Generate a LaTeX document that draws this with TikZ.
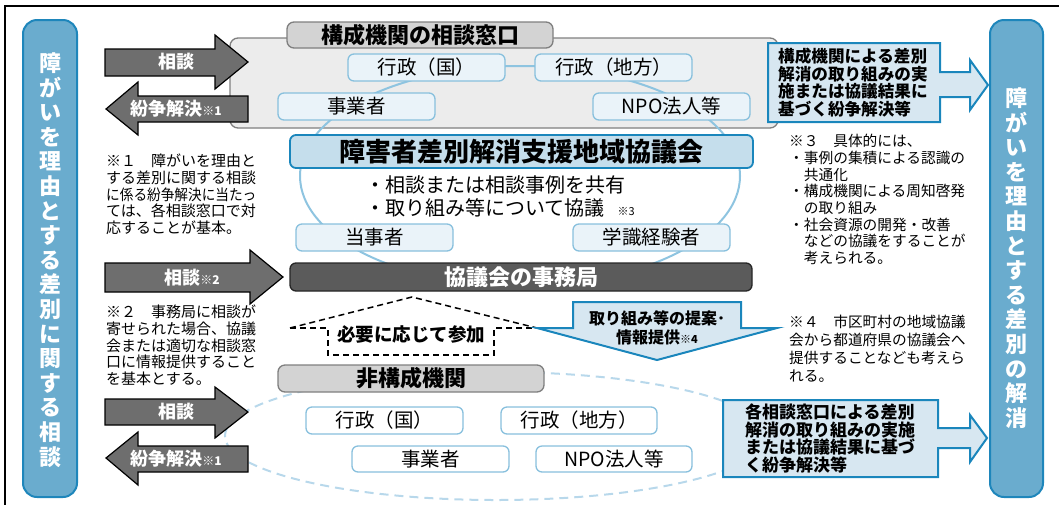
\documentclass[tikz,border=0pt]{standalone}
\usepackage{fontspec}
\usepackage{graphicx}
\setmainfont{Noto Sans CJK JP}
\definecolor{vfill}{HTML}{6AACCE}
\definecolor{vborder}{HTML}{1E86BB}
\definecolor{cfill}{HTML}{D7E7F1}
\definecolor{cborder}{HTML}{1A86BC}
\definecolor{kfill}{HTML}{C5DEEC}
\definecolor{infill}{HTML}{EAF3F9}
\definecolor{inborder}{HTML}{88C0DD}
\definecolor{ringcol}{HTML}{8EC4E0}
\definecolor{dringcol}{HTML}{B8D8EB}
\definecolor{pfill}{HTML}{ECECEC}
\definecolor{pborder}{HTML}{7F7F7F}
\definecolor{tfill}{HTML}{D3D3D3}
\definecolor{afill}{HTML}{6E6E6E}
\definecolor{barfill}{HTML}{5B5B5B}
\newcommand{\myfs}[2]{\fontsize{#1}{#2}\selectfont}
\tikzset{
  vbox/.style={draw=vborder, fill=vfill, line width=2pt, rounded corners=14pt, inner sep=0pt},
  vtext/.style={text=white, font=\bfseries\myfs{22}{24.6}, align=center, inner sep=0pt},
  panelbox/.style={draw=pborder, fill=pfill, line width=1.3pt, rounded corners=8pt, inner sep=0pt},
  tabbox/.style={draw=pborder, fill=tfill, line width=1.3pt, rounded corners=7pt, inner sep=0pt, font=\bfseries\myfs{22}{22}},
  inbox/.style={draw=inborder, fill=infill, line width=1.3pt, rounded corners=6pt, inner sep=0pt, minimum width=157pt, minimum height=27pt, font=\myfs{19.5}{19.5}},
  outbox/.style={inbox, fill=white},
  kaibox/.style={draw=cborder, fill=kfill, line width=1.8pt, rounded corners=6pt, inner sep=0pt, font=\bfseries\myfs{26}{26}},
  barbox/.style={draw=black!85, fill=barfill, line width=1.3pt, rounded corners=6pt, inner sep=0pt, text=white, font=\bfseries\myfs{22}{22}},
  blockarrow/.style={draw=black, fill=afill, line width=1.2pt},
  alabel/.style={text=white, font=\bfseries\myfs{18}{18}, inner sep=0pt},
  callout/.style={draw=cborder, fill=cfill, line width=2pt},
  ctext/.style={font=\bfseries\myfs{16.6}{17.6}, align=left, inner sep=0pt, anchor=west},
  note/.style={font=\myfs{15}{16.7}, align=left, inner sep=0pt, anchor=north west},
  ring/.style={draw=ringcol, line width=2pt},
  dring/.style={draw=dringcol, line width=2pt, dash pattern=on 9pt off 6pt},
  roof/.style={draw=black, line width=1.5pt, dash pattern=on 6pt off 4pt},
}
\begin{document}
\begin{tikzpicture}[x=1pt,y=-1pt]
\useasboundingbox (0,0) rectangle (1059,504);
\draw[line width=1.5pt] (5,520) -- (5,6) -- (1070,6);

% vertical side boxes
\node[vbox, minimum width=54pt, minimum height=477pt] (leftbox) at (50,258.5) {};
\node[vtext] (lefttext) at (50,260) {障\\が\\い\\を\\理\\由\\と\\す\\る\\差\\別\\に\\関\\す\\る\\相\\談};
\node[vbox, minimum width=53pt, minimum height=477pt] (rightbox) at (1016.5,258.5) {};
\node[vtext] (righttext) at (1016.5,258) {障\\が\\い\\を\\理\\由\\と\\す\\る\\差\\別\\の\\解\\消};

% top panel
\node[panelbox, minimum width=548pt, minimum height=90pt] (panel) at (504,83) {};

% rings
\draw[ring] (520,176) ellipse [x radius=220pt, y radius=110pt];
\draw[dring] (496,436) ellipse [x radius=271pt, y radius=64pt];

% top group
\node[tabbox, minimum width=266pt, minimum height=26pt] (tabtop) at (420,35) {構成機関の相談窓口};
\node[inbox] (gk) at (426.5,67.5) {行政（国）};
\node[inbox] (gc) at (613.5,67.5) {行政（地方）};
\node[inbox] (jg) at (356.5,106.5) {事業者};
\node[inbox] (npo) at (671.5,106.5) {NPO法人等};

% council
\node[kaibox, minimum width=463pt, minimum height=33pt] (kai) at (521.5,151.5) {障害者差別解消支援地域協議会};
\node[inner sep=0pt, anchor=west, font=\myfs{20}{20}] (b1) at (365,185) {・相談または相談事例を共有};
\node[inner sep=0pt, anchor=west, font=\myfs{20}{20}] (b2) at (365,208) {・取り組み等について協議\hspace{13pt}{\myfs{11}{11}※3}};
\node[inbox] (tj) at (374.5,237.5) {当事者};
\node[inbox] (gs) at (651.5,237.5) {学識経験者};
\node[barbox, minimum width=462pt, minimum height=28pt] (bar) at (521,277) {協議会の事務局};

% participation roof
\draw[roof] (290,328) -- (412,297) -- (537,328);
\draw[roof] (290,328) -- (328,328) -- (328,355) -- (494,355) -- (494,328) -- (537,328);
\node[inner sep=0pt, font=\bfseries\myfs{18.5}{18.5}] (hitsuyo) at (411,334) {必要に応じて参加};

% downward arrow
\draw[callout] (573,302) -- (741,302) -- (741,328) -- (777,328) -- (657,360) -- (537,328) -- (573,328) -- cycle;
\node[inner sep=0pt, align=center, font=\bfseries\myfs{16}{19}] (teian) at (657,327.5) {取り組み等の提案･\\情報提供{\myfs{11}{11}※4}};

% non-member group
\node[tabbox, minimum width=266pt, minimum height=27pt] (tabbot) at (411,378.5) {非構成機関};
\node[outbox] (gk2) at (384.5,420.5) {行政（国）};
\node[outbox, minimum width=156pt] (gc2) at (579,420.5) {行政（地方）};
\node[outbox, minimum height=26pt] (jg2) at (430.5,459) {事業者};
\node[outbox, minimum width=156pt, minimum height=26pt] (npo2) at (614,459) {NPO法人等};

% left block arrows
\draw[blockarrow] (105,49) -- (215,49) -- (215,35) -- (248,62) -- (215,89) -- (215,76) -- (105,76) -- cycle;
\node[alabel] (a1) at (176,62) {相談};
\draw[blockarrow] (248,96) -- (138,96) -- (138,82) -- (106,109) -- (138,135) -- (138,122) -- (248,122) -- cycle;
\node[alabel] (a2) at (176,109) {紛争解決{\myfs{12}{12}※1}};
\draw[blockarrow] (105,263) -- (250,263) -- (250,250) -- (283,277) -- (250,304) -- (250,292) -- (105,292) -- cycle;
\node[alabel] (a3) at (192,277.5) {相談{\myfs{12}{12}※2}};
\draw[blockarrow] (105,399) -- (215,399) -- (215,387) -- (248,412) -- (215,438) -- (215,425) -- (105,425) -- cycle;
\node[alabel] (a4) at (176,412) {相談};
\draw[blockarrow] (248,446) -- (138,446) -- (138,432) -- (106,458) -- (138,485) -- (138,472) -- (248,472) -- cycle;
\node[alabel] (a5) at (176,459) {紛争解決{\myfs{12}{12}※1}};

% right callouts
\draw[callout] (768,43) -- (940,43) -- (940,72) -- (970,72) -- (970,60) -- (988,85) -- (970,110) -- (970,97) -- (940,97) -- (940,122) -- (768,122) -- cycle;
\node[ctext] (c1) at (778,82.5) {構成機関による差別\\解消の取り組みの実\\施または協議結果に\\基づく紛争解決等};
\draw[callout] (723,400) -- (938,400) -- (938,428) -- (970,428) -- (970,415) -- (987,438) -- (970,462) -- (970,448) -- (938,448) -- (938,477) -- (723,477) -- cycle;
\node[ctext, font=\bfseries\myfs{17}{17.7}] (c2) at (745,438.5) {各相談窓口による差別\\解消の取り組みの実施\\または協議結果に基づ\\く紛争解決等};

% notes
\node[note] (n1) at (106,154) {※１　障がいを理由と\\する差別に関する相談\\\scalebox{0.91}[1]{に係る紛争解決に当たっ}\\ては、各相談窓口で対\\応することが基本。};
\node[note] (n2) at (106,305) {※２　事務局に相談が\\寄せられた場合、協議\\会または適切な相談窓\\口に情報提供すること\\を基本とする。};
\node[note, font=\myfs{14.7}{16.7}] (n3) at (789,134) {※３　具体的には、\\・事例の集積による認識の\\　共通化\\・構成機関による周知啓発\\　の取り組み\\・社会資源の開発・改善\\　などの協議をすることが\\　考えられる。};
\node[note, font=\myfs{14.7}{18}] (n4) at (789,315) {※４　市区町村の地域協議\\会から都道府県の協議会へ\\提供することなども考えら\\れる。};
\end{tikzpicture}
\end{document}
